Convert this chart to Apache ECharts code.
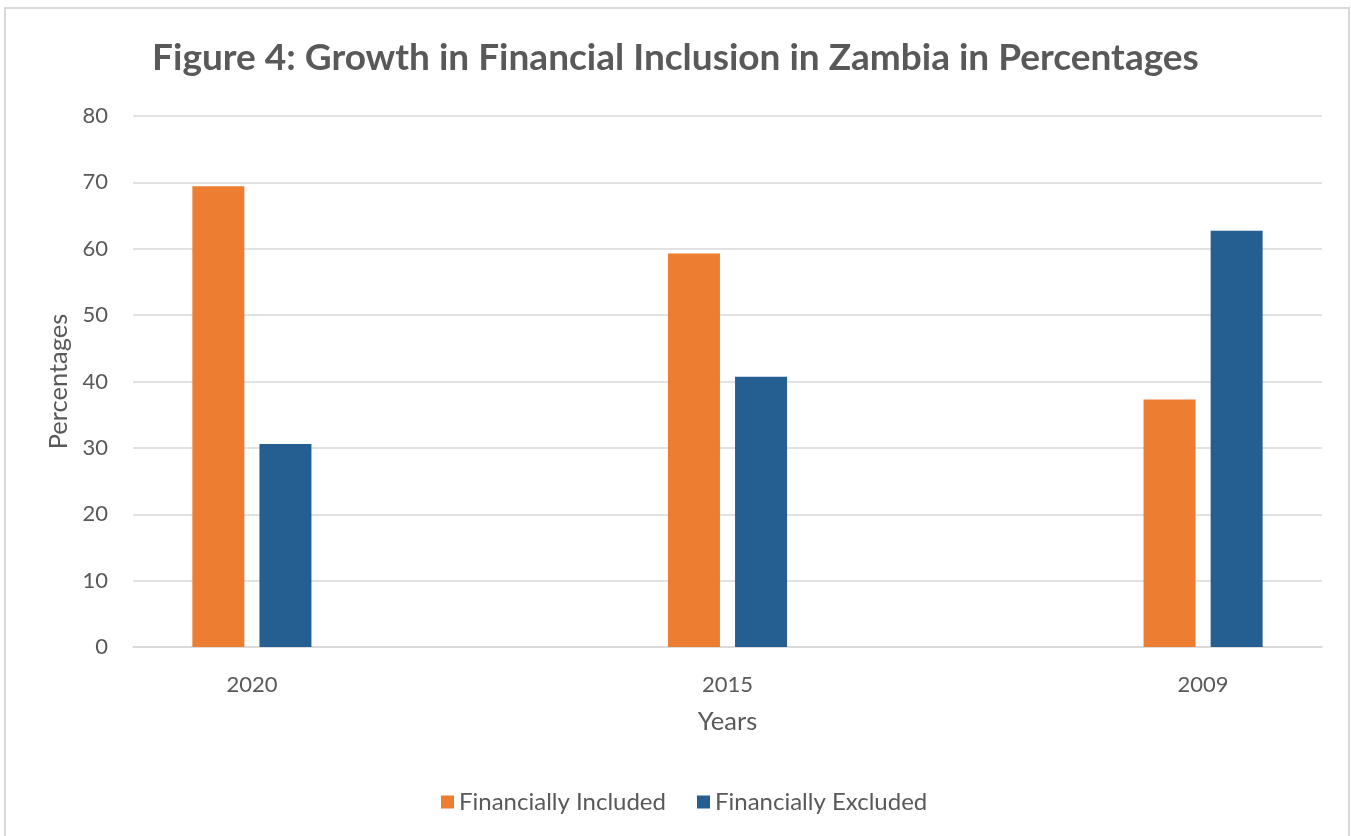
<!DOCTYPE html>
<html>
<head>
<meta charset="utf-8">
<script src="https://cdn.jsdelivr.net/npm/echarts@6/dist/echarts.min.js"></script>
<style>
  html, body { margin: 0; padding: 0; background: #ffffff; }
  #chart { width: 1351px; height: 836px; }
</style>
</head>
<body>
<div id="chart"></div>
<script>
// Survey years, in the order shown on the axis
const years = ['2020', '2015', '2009'];
// Share of adults (%) by year
const financiallyIncluded = [69.4, 59.3, 37.3];
const financiallyExcluded = [30.6, 40.7, 62.7];
// Value-axis ticks
const yTicks = [0, 10, 20, 30, 40, 50, 60, 70, 80];

const textColor = '#595959';
const gridColor = '#D9D9D9';
const font = 'Lato';

const chart = echarts.init(document.getElementById('chart'), null, { renderer: 'canvas' });

chart.setOption({
  backgroundColor: '#ffffff',
  animation: false,
  graphic: [{
    type: 'rect',
    shape: { x: 5, y: 8, width: 1344, height: 840 },
    style: { fill: 'none', stroke: '#D9D9D9', lineWidth: 2 },
    silent: true
  }],
  title: {
    text: 'Figure 4: Growth in Financial Inclusion in Zambia in Percentages',
    left: 'center',
    top: 35,
    textStyle: { fontFamily: font, fontWeight: 'bold', fontSize: 37, color: textColor }
  },
  legend: {
    top: 785,
    left: 436,
    icon: 'rect',
    itemWidth: 13,
    itemHeight: 13,
    itemGap: 31,
    textStyle: { fontFamily: font, fontSize: 24, color: textColor },
    data: ['Financially Included', 'Financially Excluded']
  },
  grid: { left: 133, right: 29, top: 116, bottom: 189, containLabel: false },
  xAxis: {
    type: 'value',
    min: -0.25,
    max: 2.25,
    name: 'Years',
    nameLocation: 'middle',
    nameGap: 62,
    nameTextStyle: { fontFamily: font, fontSize: 25.5, color: textColor },
    axisLine: { show: true, lineStyle: { color: gridColor, width: 1.5 } },
    axisTick: { show: false },
    splitLine: { show: false },
    axisLabel: {
      customValues: years.map((_, i) => i),
      formatter: (v) => years[Math.round(v)],
      margin: 27,
      fontFamily: font,
      fontSize: 22,
      color: textColor
    }
  },
  yAxis: {
    type: 'value',
    min: yTicks[0],
    max: yTicks[yTicks.length - 1],
    interval: 10,
    name: 'Percentages',
    nameLocation: 'middle',
    nameRotate: 90,
    nameGap: 61,
    nameTextStyle: { fontFamily: font, fontSize: 25.5, color: textColor },
    axisLine: { show: false },
    axisTick: { show: false },
    splitLine: { lineStyle: { color: gridColor, width: 1.5 } },
    axisLabel: { margin: 25, fontFamily: font, fontSize: 22, color: textColor }
  },
  series: [
    {
      name: 'Financially Included',
      type: 'bar',
      barWidth: 52,
      barGap: '29%',
      itemStyle: { color: '#ED7D31' },
      data: financiallyIncluded.map((v, i) => [i, v])
    },
    {
      name: 'Financially Excluded',
      type: 'bar',
      barWidth: 52,
      barGap: '29%',
      itemStyle: { color: '#255E91' },
      data: financiallyExcluded.map((v, i) => [i, v])
    }
  ]
});
</script>
</body>
</html>
